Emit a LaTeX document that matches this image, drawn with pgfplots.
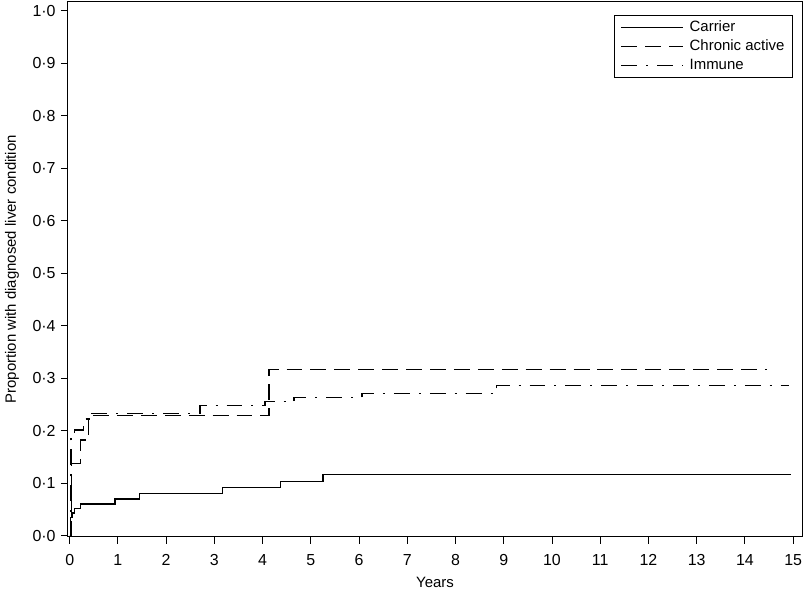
\documentclass[border=0pt]{standalone}
\usepackage{fontspec}
\setmainfont{Liberation Sans}
\usepackage{pgfplots}
\pgfplotsset{compat=1.18}
\begin{document}
\fontsize{15}{18}\selectfont
\begin{tikzpicture}
\begin{axis}[
    scale only axis,
    width=737pt, height=537pt,
    xmin=-0.04, xmax=15.19,
    ymin=-0.0025, ymax=1.017,
    xtick={0,1,2,3,4,5,6,7,8,9,10,11,12,13,14,15},
    ytick={0,0.1,0.2,0.3,0.4,0.5,0.6,0.7,0.8,0.9,1.0},
    yticklabels={0·0,0·1,0·2,0·3,0·4,0·5,0·6,0·7,0·8,0·9,1·0},
    /pgf/number format/assume math mode=true,
    tick align=outside,
    xtick pos=left, ytick pos=left,
    major tick length=7pt,
    axis line style={line width=1pt},
    every tick/.style={black, line width=1pt},
    tick label style={font=\fontsize{16}{19}\selectfont},
    xticklabel style={yshift=-5pt},
    xlabel={Years},
    ylabel={Proportion with diagnosed liver condition},
    every axis x label/.style={at={(rel axis cs:0.5,0)}, anchor=center, yshift=-46pt},
    every axis y label/.style={at={(rel axis cs:0,0.5)}, anchor=center, rotate=90, yshift=56pt},
    legend style={
        at={(rel axis cs:0.987,0.976)}, anchor=north east,
        draw=black, line width=0.8pt,
        font=\fontsize{15}{18}\selectfont,
        inner xsep=6pt, inner ysep=4pt,
        row sep=2pt,
        cells={anchor=west},
        /tikz/every odd column/.append style={column sep=4pt},
    },
    legend image code/.code={\draw[#1, line width=1.3pt] (0pt,0pt) -- (62pt,0pt);},
]
% carrier
\addplot[const plot, black, line width=1.3pt] coordinates {
    (0,0) (0.02,0.034) (0.05,0.043) (0.10,0.052) (0.22,0.060)
    (0.94,0.070) (1.45,0.080) (3.17,0.091) (4.37,0.103) (5.25,0.116)
    (14.95,0.116)
};
\addlegendentry{Carrier}
% chronic active
\addplot[const plot, black, line width=1.3pt, dash pattern=on 16pt off 8pt] coordinates {
    (0,0) (0.035,0.137) (0.22,0.182) (0.39,0.222) (0.42,0.229)
    (4.13,0.316) (14.46,0.316)
};
\addlegendentry{Chronic active}
% immune
\addplot[const plot, black, line width=1.3pt, dash pattern=on 16pt off 9pt on 2pt off 9pt] coordinates {
    (0,0) (0.03,0.19) (0.10,0.201) (0.29,0.222) (0.41,0.232)
    (2.70,0.248) (4.05,0.255) (4.65,0.263) (6.06,0.271) (8.85,0.286)
    (14.91,0.286)
};
\addlegendentry{Immune}
\end{axis}
\end{tikzpicture}
\end{document}
